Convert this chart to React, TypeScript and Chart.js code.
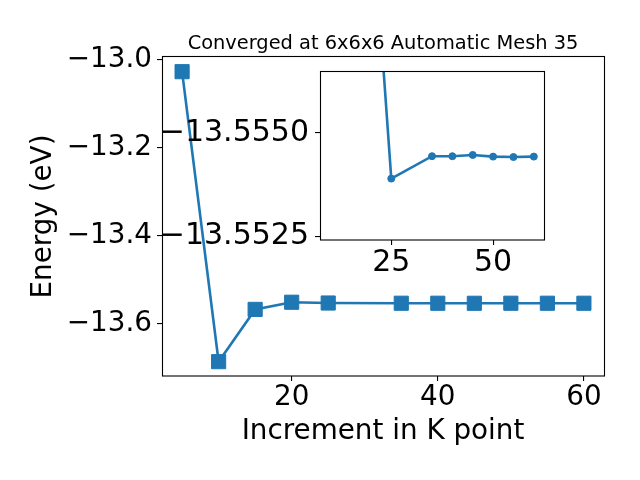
import React, { useEffect, useRef } from "react";
import { Chart, registerables } from "chart.js";

Chart.register(...registerables);

// ---- data ----
const kPoints = [5, 10, 15, 20, 25, 35, 40, 45, 50, 55, 60];
const energies = [-13.0277, -13.6873, -13.5684, -13.5521, -13.5539, -13.5544, -13.5544, -13.5545, -13.5544, -13.5544, -13.5544];
const insetKPoints = [20, 25, 35, 40, 45, 50, 55, 60];
const insetEnergies = [-13.5608, -13.5539, -13.55444, -13.55444, -13.55447, -13.55443, -13.55442, -13.55443];
const mainXTicks = [20, 40, 60];
const mainYTicks = [-13.6, -13.4, -13.2, -13.0];
const insetXTicks = [25, 50];
const insetYTicks = [-13.555, -13.5525];
const titleText = "Converged at 6x6x6 Automatic Mesh 35";
const xLabel = "Increment in K point";
const yLabel = "Energy (eV)";

const BLUE = "#1f77b4";
const FONT = "'DejaVu Sans', sans-serif";

const fmt = (v: number, d: number) => v.toFixed(d).replace("-", "\u2212");

const boxPlugin = {
  id: "box",
  afterDraw(chart: any) {
    const { ctx, chartArea } = chart;
    const { left, right, top, bottom } = chartArea;
    ctx.save();
    ctx.strokeStyle = "#000";
    ctx.lineWidth = 1.1;
    ctx.strokeRect(left + 0.5, top - 0.5, right - left, bottom - top + 0.5);
    ctx.restore();
  },
};

const whiteBg = {
  id: "whiteBg",
  beforeDraw(chart: any) {
    const { ctx, chartArea } = chart;
    ctx.save();
    ctx.fillStyle = "#fff";
    ctx.fillRect(chartArea.left, chartArea.top, chartArea.right - chartArea.left, chartArea.bottom - chartArea.top);
    ctx.restore();
  },
};

const titlePlugin = {
  id: "topTitle",
  afterDraw(chart: any) {
    const { ctx, chartArea } = chart;
    ctx.save();
    ctx.font = `19.4px ${FONT}`;
    ctx.fillStyle = "#000";
    ctx.textAlign = "center";
    ctx.textBaseline = "alphabetic";
    ctx.fillText(titleText, (chartArea.left + chartArea.right) / 2, chartArea.top - 8.3);
    ctx.restore();
  },
};

const gridOpts = {
  display: true,
  drawOnChartArea: false,
  drawTicks: true,
  tickLength: 5,
  color: "#000",
  lineWidth: 1.1,
};

export default function App() {
  const mainRef = useRef<HTMLCanvasElement>(null);
  const insetRef = useRef<HTMLCanvasElement>(null);

  useEffect(() => {
    if (!mainRef.current || !insetRef.current) return;
    Chart.defaults.font.family = FONT;
    Chart.defaults.color = "#000";

    const main = new Chart(mainRef.current, {
      type: "line",
      data: {
        datasets: [
          {
            data: kPoints.map((k, i) => ({ x: k, y: energies[i] })),
            borderColor: BLUE,
            backgroundColor: BLUE,
            borderWidth: 2.6,
            pointStyle: "rect",
            pointRadius: 10,
            pointBackgroundColor: BLUE,
            pointBorderColor: BLUE,
            pointBorderWidth: 1,
            tension: 0,
          },
        ],
      },
      options: {
        animation: false,
        responsive: false,
        devicePixelRatio: 1,
        layout: { padding: { left: 0, top: 57, right: 36, bottom: 0 } },
        plugins: { legend: { display: false }, tooltip: { enabled: false }, title: { display: false } },
        scales: {
          x: {
            type: "linear",
            min: 2.25,
            max: 62.75,
            grid: gridOpts,
            border: { display: false },
            afterBuildTicks: (s: any) => {
              s.ticks = mainXTicks.map((v) => ({ value: v }));
            },
            afterFit: (s: any) => {
              s.height = 104;
            },
            ticks: {
              font: { size: 27.8 },
              padding: 0,
              maxRotation: 0,
              autoSkip: false,
              callback: (v: any) => String(v),
            },
            title: {
              display: true,
              text: xLabel,
              font: { size: 27.8 },
              padding: { top: 0, bottom: 32 },
            },
          },
          y: {
            type: "linear",
            min: -13.7199,
            max: -12.9943,
            grid: gridOpts,
            border: { display: false },
            afterBuildTicks: (s: any) => {
              s.ticks = mainYTicks.map((v) => ({ value: v }));
            },
            afterFit: (s: any) => {
              s.width = 162;
            },
            ticks: {
              font: { size: 27.8 },
              padding: 5,
              autoSkip: false,
              callback: (v: any) => fmt(Number(v), 1),
            },
            title: {
              display: true,
              text: yLabel,
              font: { size: 27.8 },
              padding: { top: 27, bottom: 0 },
            },
          },
        },
      },
      plugins: [boxPlugin, titlePlugin],
    } as any);

    const inset = new Chart(insetRef.current, {
      type: "line",
      data: {
        datasets: [
          {
            data: insetKPoints.map((k, i) => ({ x: k, y: insetEnergies[i] })),
            borderColor: BLUE,
            backgroundColor: BLUE,
            borderWidth: 2.6,
            pointStyle: "circle",
            pointRadius: 3.5,
            pointBackgroundColor: BLUE,
            pointBorderColor: BLUE,
            pointBorderWidth: 1,
            tension: 0,
          },
        ],
      },
      options: {
        animation: false,
        responsive: false,
        devicePixelRatio: 1,
        layout: { padding: { left: 0, top: 72, right: 96, bottom: 0 } },
        plugins: { legend: { display: false }, tooltip: { enabled: false }, title: { display: false } },
        scales: {
          x: {
            type: "linear",
            min: 7.5,
            max: 62.5,
            grid: gridOpts,
            border: { display: false },
            afterBuildTicks: (s: any) => {
              s.ticks = insetXTicks.map((v) => ({ value: v }));
            },
            afterFit: (s: any) => {
              s.height = 240;
            },
            ticks: {
              font: { size: 30 },
              padding: 0,
              maxRotation: 0,
              autoSkip: false,
              callback: (v: any) => String(v),
            },
          },
          y: {
            type: "linear",
            reverse: true,
            min: -13.55647,
            max: -13.55242,
            grid: gridOpts,
            border: { display: false },
            afterBuildTicks: (s: any) => {
              s.ticks = insetYTicks.map((v) => ({ value: v }));
            },
            afterFit: (s: any) => {
              s.width = 320;
            },
            ticks: {
              font: { size: 30 },
              padding: 6,
              autoSkip: false,
              callback: (v: any) => fmt(Number(v), 4),
            },
          },
        },
      },
      plugins: [whiteBg, boxPlugin],
    } as any);

    return () => {
      main.destroy();
      inset.destroy();
    };
  }, []);

  return (
    <div style={{ position: "absolute", left: 0, top: 0, width: 640, height: 480, background: "#fff" }}>
      <canvas ref={mainRef} width={640} height={480} style={{ position: "absolute", left: 0, top: 0 }} />
      <canvas ref={insetRef} width={640} height={480} style={{ position: "absolute", left: 0, top: 0 }} />
    </div>
  );
}
